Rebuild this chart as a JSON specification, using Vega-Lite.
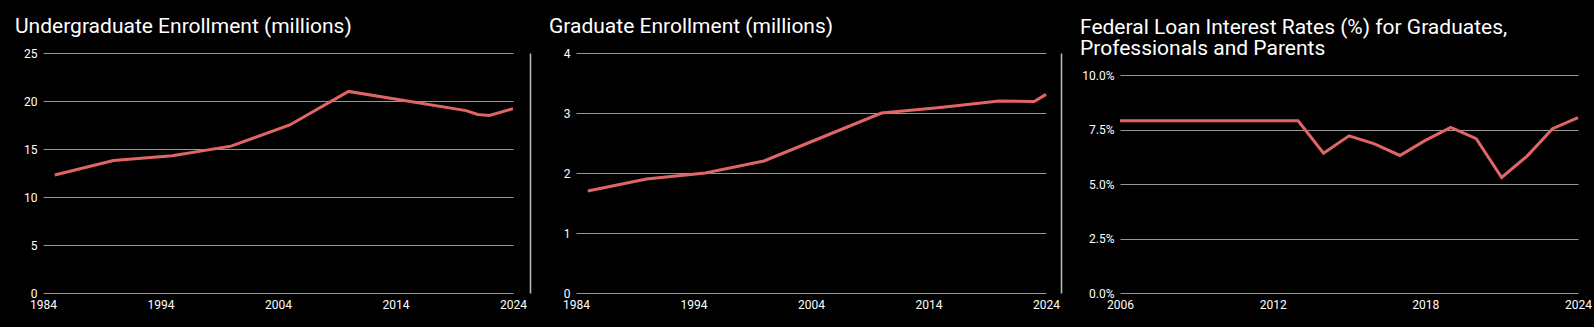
{
  "$schema": "https://vega.github.io/schema/vega-lite/v6.json",
  "background": "#000000",
  "padding": {"left": 15, "top": 16, "right": 4, "bottom": 18},
  "config": {
    "view": {"stroke": null},
    "font": "Roboto",
    "title": {"font": "Roboto", "fontSize": 21, "fontWeight": "normal", "color": "#ffffff", "anchor": "start", "frame": "group", "lineHeight": 21},
    "axis": {"labelFont": "Roboto", "labelFontSize": 12, "labelColor": "#ffffff", "title": null, "domain": false, "ticks": false}
  },
  "datasets": {
    "undergrad": [
      {"year": 1985, "value": 12.3},
      {"year": 1990, "value": 13.8},
      {"year": 1995, "value": 14.3},
      {"year": 2000, "value": 15.3},
      {"year": 2005, "value": 17.5},
      {"year": 2010, "value": 21.0},
      {"year": 2015, "value": 20.0},
      {"year": 2020, "value": 19.0},
      {"year": 2021, "value": 18.6},
      {"year": 2022, "value": 18.5},
      {"year": 2024, "value": 19.2}
    ],
    "grad": [
      {"year": 1985, "value": 1.7},
      {"year": 1990, "value": 1.9},
      {"year": 1995, "value": 2.0},
      {"year": 2000, "value": 2.2},
      {"year": 2005, "value": 2.6},
      {"year": 2010, "value": 3.0},
      {"year": 2015, "value": 3.09},
      {"year": 2020, "value": 3.2},
      {"year": 2023, "value": 3.19},
      {"year": 2024, "value": 3.31}
    ],
    "rates": [
      {"year": 2006, "value": 0.079},
      {"year": 2007, "value": 0.079},
      {"year": 2008, "value": 0.079},
      {"year": 2009, "value": 0.079},
      {"year": 2010, "value": 0.079},
      {"year": 2011, "value": 0.079},
      {"year": 2012, "value": 0.079},
      {"year": 2013, "value": 0.079},
      {"year": 2014, "value": 0.0641},
      {"year": 2015, "value": 0.0721},
      {"year": 2016, "value": 0.0684},
      {"year": 2017, "value": 0.0631},
      {"year": 2018, "value": 0.070},
      {"year": 2019, "value": 0.076},
      {"year": 2020, "value": 0.0708},
      {"year": 2021, "value": 0.053},
      {"year": 2022, "value": 0.0628},
      {"year": 2023, "value": 0.0754},
      {"year": 2024, "value": 0.0805}
    ]
  },
  "columns": 3,
  "align": "none",
  "spacing": 19,
  "concat": [
    {
      "title": {"text": "Undergraduate Enrollment (millions)", "dx": -28, "offset": 10},
      "width": 470,
      "height": 240,
      "data": {"name": "undergrad"},
      "resolve": {"axis": {"y": "independent"}},
      "layer": [
        {
          "mark": {"type": "line", "color": "#e06666", "strokeWidth": 3},
          "encoding": {
            "x": {"field": "year", "type": "quantitative", "scale": {"domain": [1984, 2024], "nice": false, "zero": false},
                  "axis": {"values": [1984, 1994, 2004, 2014, 2024], "format": "d", "grid": false, "labelPadding": 6, "labelFlush": false}},
            "y": {"field": "value", "type": "quantitative", "scale": {"domain": [0, 25], "nice": false},
                  "axis": {"values": [0, 5, 10, 15, 20, 25], "grid": true, "gridColor": "#999999", "gridWidth": 1, "labelPadding": 6}}
          }
        },
        {
          "mark": {"type": "line", "strokeOpacity": 0},
          "encoding": {
            "x": {"field": "year", "type": "quantitative"},
            "y": {"field": "value", "type": "quantitative",
                  "axis": {"orient": "right", "labels": false, "grid": false, "ticks": false, "domain": true, "domainColor": "#bdbdbd", "domainWidth": 1.5, "offset": 17}}
          }
        }
      ]
    },
    {
      "title": {"text": "Graduate Enrollment (millions)", "dx": -27, "offset": 10},
      "width": 470,
      "height": 240,
      "data": {"name": "grad"},
      "resolve": {"axis": {"y": "independent"}},
      "layer": [
        {
          "mark": {"type": "line", "color": "#e06666", "strokeWidth": 3},
          "encoding": {
            "x": {"field": "year", "type": "quantitative", "scale": {"domain": [1984, 2024], "nice": false, "zero": false},
                  "axis": {"values": [1984, 1994, 2004, 2014, 2024], "format": "d", "grid": false, "labelPadding": 6, "labelFlush": false}},
            "y": {"field": "value", "type": "quantitative", "scale": {"domain": [0, 4], "nice": false},
                  "axis": {"values": [0, 1, 2, 3, 4], "grid": true, "gridColor": "#999999", "gridWidth": 1, "labelPadding": 6}}
          }
        },
        {
          "mark": {"type": "line", "strokeOpacity": 0},
          "encoding": {
            "x": {"field": "year", "type": "quantitative"},
            "y": {"field": "value", "type": "quantitative",
                  "axis": {"orient": "right", "labels": false, "grid": false, "ticks": false, "domain": true, "domainColor": "#bdbdbd", "domainWidth": 1.5, "offset": 15}}
          }
        }
      ]
    },
    {
      "title": {"text": ["Federal Loan Interest Rates (%) for Graduates,", "Professionals and Parents"], "dx": -40, "dy": 16, "offset": 10},
      "width": 458,
      "height": 240,
      "data": {"name": "rates"},
      "mark": {"type": "line", "color": "#e06666", "strokeWidth": 3},
      "encoding": {
        "x": {"field": "year", "type": "quantitative", "scale": {"domain": [2006, 2024], "nice": false, "zero": false},
              "axis": {"values": [2006, 2012, 2018, 2024], "format": "d", "grid": false, "labelPadding": 6, "labelFlush": false}},
        "y": {"field": "value", "type": "quantitative", "scale": {"domain": [0, 0.1101], "nice": false},
              "axis": {"values": [0, 0.025, 0.05, 0.075, 0.1], "format": ".1%", "grid": true, "gridColor": "#999999", "gridWidth": 1, "labelPadding": 6}}
      }
    }
  ]
}
